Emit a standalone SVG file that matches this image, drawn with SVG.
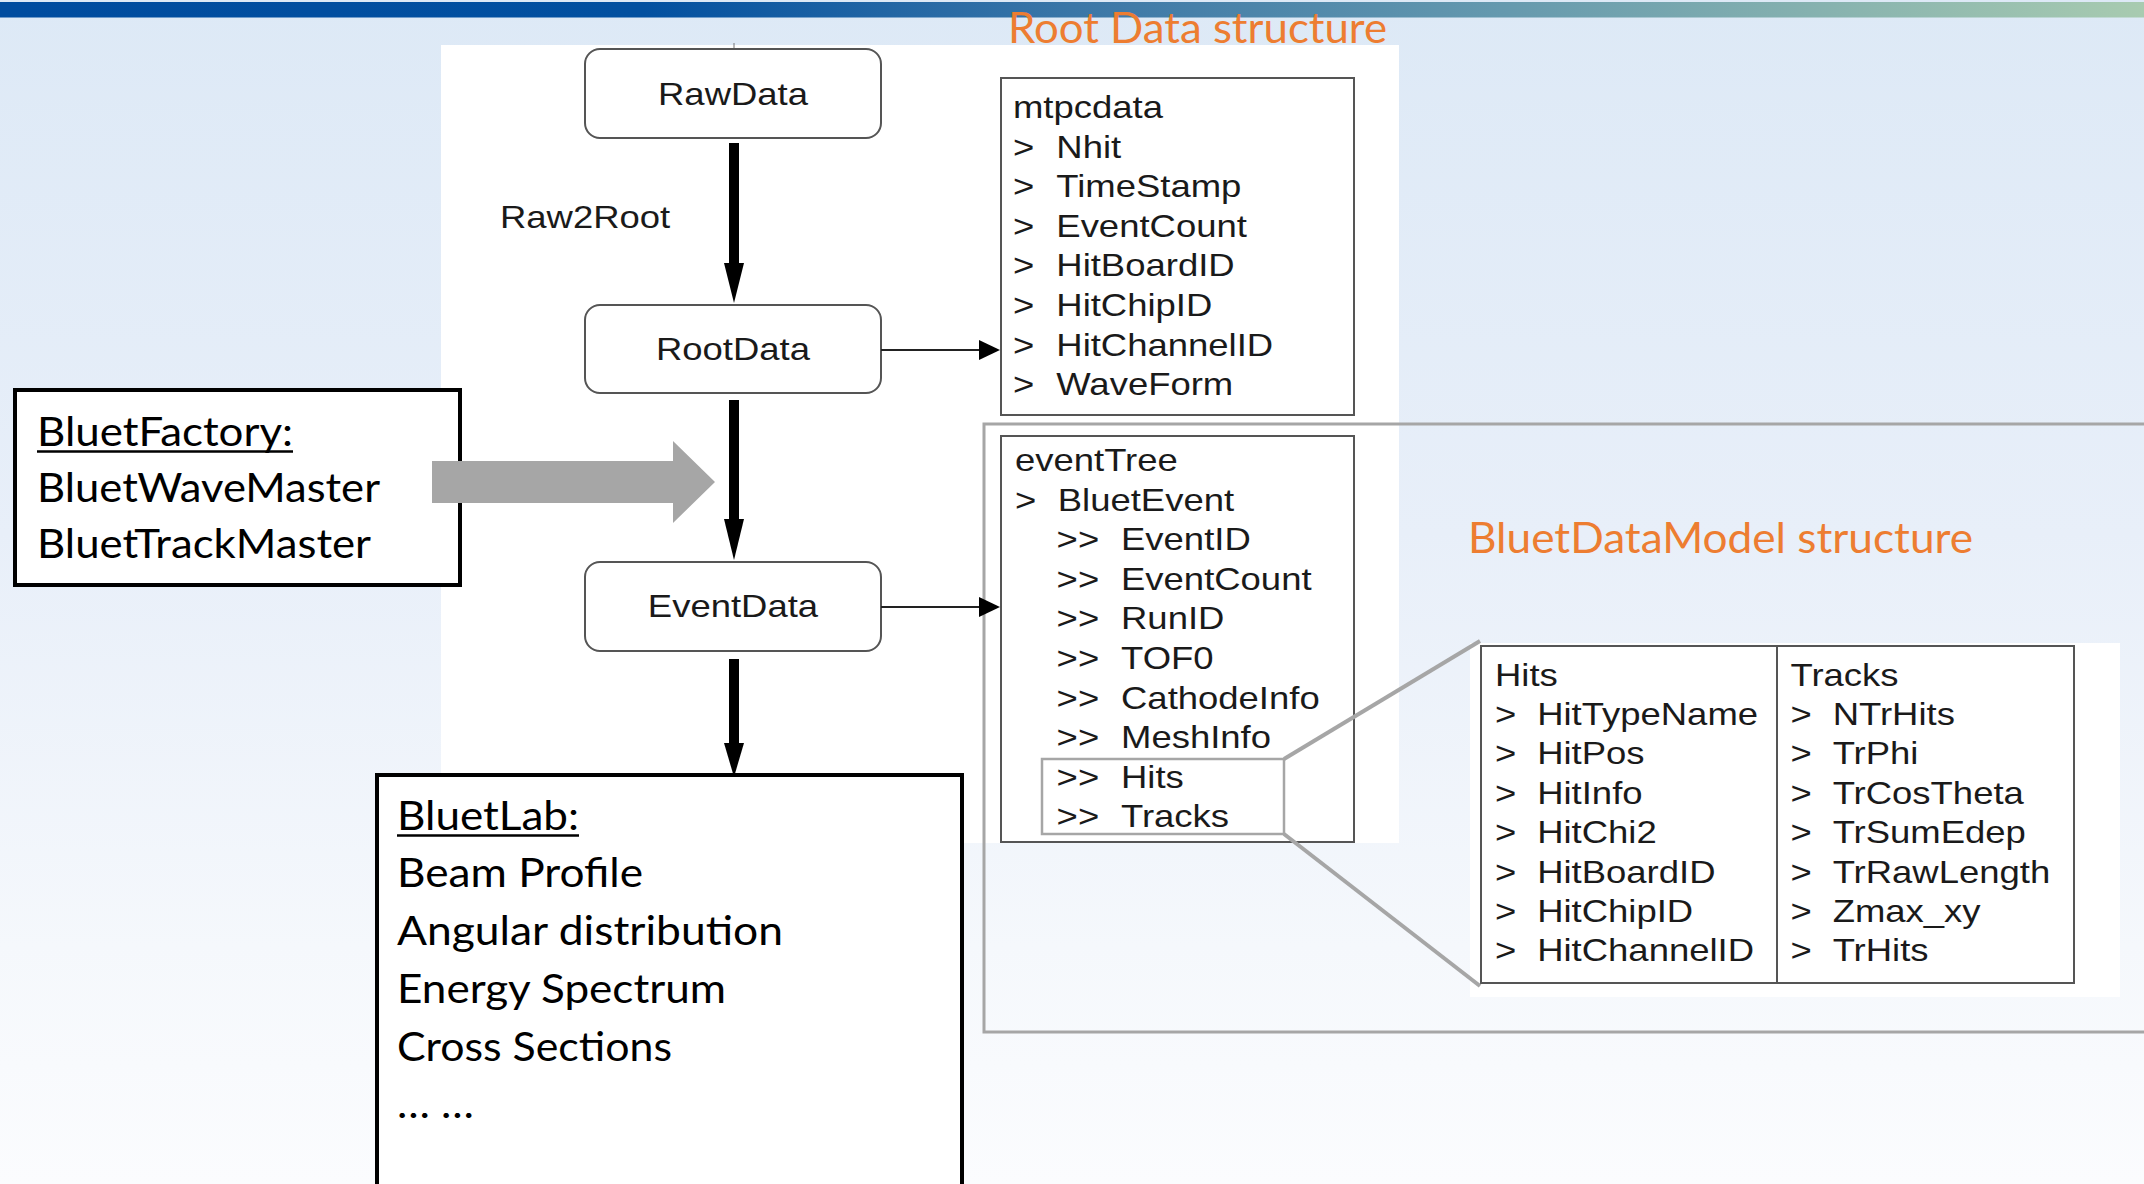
<svg xmlns="http://www.w3.org/2000/svg" width="2144" height="1184" viewBox="0 0 2144 1184">
<defs>
<linearGradient id="bg" x1="0" y1="0" x2="0" y2="1">
<stop offset="0" stop-color="#dde9f6"/>
<stop offset="0.45" stop-color="#e8eff9"/>
<stop offset="0.8" stop-color="#f5f8fc"/>
<stop offset="1" stop-color="#fbfcfe"/>
</linearGradient>
<linearGradient id="bar" x1="0" y1="0" x2="1" y2="0">
<stop offset="0" stop-color="#004c9f"/>
<stop offset="0.3" stop-color="#0250a0"/>
<stop offset="0.5" stop-color="#3a76a7"/>
<stop offset="0.7" stop-color="#6599ae"/>
<stop offset="1" stop-color="#a8cbb0"/>
</linearGradient>
<style>
.ar{font-family:"Liberation Sans",Arial,sans-serif;font-size:32px;fill:#1a1a1a}
.cal{font-family:Lato,"Open Sans",sans-serif;font-size:40px;fill:#000}
.title{font-family:Lato,"Open Sans",sans-serif;font-size:42px;fill:#ed7d31}
.node{fill:#fff;stroke:#555;stroke-width:2}
.list{fill:#fff;stroke:#555;stroke-width:2}
.box{fill:#fff;stroke:#000;stroke-width:4}
.gray{fill:none;stroke:#a6a6a6}
.thick{stroke:#000;stroke-width:10;fill:none}
.thin{stroke:#222;stroke-width:2;fill:none}
.head{fill:#000}
</style>
</defs>
<rect x="0" y="0" width="2144" height="1184" fill="url(#bg)"/>
<rect x="0" y="2" width="2144" height="15.5" fill="url(#bar)"/>
<text class="title" x="1008" y="43" textLength="379" lengthAdjust="spacingAndGlyphs">Root Data structure</text>
<rect x="441" y="45" width="958" height="798" fill="#fff"/>
<rect x="1470" y="643" width="650" height="354" fill="#fff"/>
<line x1="734" y1="43" x2="734" y2="50" stroke="#777" stroke-width="1"/>
<rect id="bdm-frame" class="gray" x="984" y="424" width="1200" height="608" stroke-width="3"/>
<text class="title" x="1468" y="552.5" textLength="505" lengthAdjust="spacingAndGlyphs">BluetDataModel structure</text>

<g id="rawdata">
<rect class="node" x="585" y="49" width="296" height="89" rx="15"/>
<text class="ar" text-anchor="middle" transform="matrix(1.14 0 0 1 733 105)">RawData</text>
</g>
<g id="rootdata">
<rect class="node" x="585" y="305" width="296" height="88" rx="15"/>
<text class="ar" text-anchor="middle" transform="matrix(1.14 0 0 1 733 360)">RootData</text>
</g>
<g id="eventdata">
<rect class="node" x="585" y="562" width="296" height="89" rx="15"/>
<text class="ar" text-anchor="middle" transform="matrix(1.14 0 0 1 733 617)">EventData</text>
</g>

<g id="mtpcdata">
<rect class="list" x="1001" y="78" width="353" height="337"/>
<g class="ar" transform="matrix(1.14 0 0 1 1013 0)">
<text x="0" y="118">mtpcdata</text>
<text y="157.6"><tspan x="0">&gt;</tspan><tspan x="38">Nhit</tspan></text>
<text y="197.2"><tspan x="0">&gt;</tspan><tspan x="38">TimeStamp</tspan></text>
<text y="236.8"><tspan x="0">&gt;</tspan><tspan x="38">EventCount</tspan></text>
<text y="276.4"><tspan x="0">&gt;</tspan><tspan x="38">HitBoardID</tspan></text>
<text y="316"><tspan x="0">&gt;</tspan><tspan x="38">HitChipID</tspan></text>
<text y="355.6"><tspan x="0">&gt;</tspan><tspan x="38">HitChannelID</tspan></text>
<text y="395.2"><tspan x="0">&gt;</tspan><tspan x="38">WaveForm</tspan></text>
</g>
</g>

<g id="eventtree">
<rect class="list" x="1001" y="436" width="353" height="406"/>
<rect class="gray" x="1042" y="759" width="242" height="75" stroke-width="2.5"/>
<g class="ar" transform="matrix(1.14 0 0 1 1015 0)">
<text x="0" y="471">eventTree</text>
<text y="510.6"><tspan x="0">&gt;</tspan><tspan x="37.5">BluetEvent</tspan></text>
<text y="550.2"><tspan x="36.5">&gt;&gt;</tspan><tspan x="93">EventID</tspan></text>
<text y="589.8"><tspan x="36.5">&gt;&gt;</tspan><tspan x="93">EventCount</tspan></text>
<text y="629.4"><tspan x="36.5">&gt;&gt;</tspan><tspan x="93">RunID</tspan></text>
<text y="669"><tspan x="36.5">&gt;&gt;</tspan><tspan x="93">TOF0</tspan></text>
<text y="708.6"><tspan x="36.5">&gt;&gt;</tspan><tspan x="93">CathodeInfo</tspan></text>
<text y="748.2"><tspan x="36.5">&gt;&gt;</tspan><tspan x="93">MeshInfo</tspan></text>
<text y="787.8"><tspan x="36.5">&gt;&gt;</tspan><tspan x="93">Hits</tspan></text>
<text y="827.4"><tspan x="36.5">&gt;&gt;</tspan><tspan x="93">Tracks</tspan></text>
</g>
</g>

<g id="hits-tracks">
<rect class="list" x="1481" y="646" width="593" height="337"/>
<line x1="1777" y1="646" x2="1777" y2="983" stroke="#555" stroke-width="2"/>
<g class="ar" transform="matrix(1.14 0 0 1 1495 0)">
<text x="0" y="685.7">Hits</text>
<text y="725.1"><tspan x="0">&gt;</tspan><tspan x="37">HitTypeName</tspan></text>
<text y="764.5"><tspan x="0">&gt;</tspan><tspan x="37">HitPos</tspan></text>
<text y="803.9"><tspan x="0">&gt;</tspan><tspan x="37">HitInfo</tspan></text>
<text y="843.3"><tspan x="0">&gt;</tspan><tspan x="37">HitChi2</tspan></text>
<text y="882.7"><tspan x="0">&gt;</tspan><tspan x="37">HitBoardID</tspan></text>
<text y="922.1"><tspan x="0">&gt;</tspan><tspan x="37">HitChipID</tspan></text>
<text y="961.5"><tspan x="0">&gt;</tspan><tspan x="37">HitChannelID</tspan></text>
</g>
<g class="ar" transform="matrix(1.14 0 0 1 1790.5 0)">
<text x="0" y="685.7">Tracks</text>
<text y="725.1"><tspan x="0">&gt;</tspan><tspan x="37">NTrHits</tspan></text>
<text y="764.5"><tspan x="0">&gt;</tspan><tspan x="37">TrPhi</tspan></text>
<text y="803.9"><tspan x="0">&gt;</tspan><tspan x="37">TrCosTheta</tspan></text>
<text y="843.3"><tspan x="0">&gt;</tspan><tspan x="37">TrSumEdep</tspan></text>
<text y="882.7"><tspan x="0">&gt;</tspan><tspan x="37">TrRawLength</tspan></text>
<text y="922.1"><tspan x="0">&gt;</tspan><tspan x="37">Zmax_xy</tspan></text>
<text y="961.5"><tspan x="0">&gt;</tspan><tspan x="37">TrHits</tspan></text>
</g>
</g>

<g id="bluetfactory">
<rect class="box" x="15" y="390" width="445" height="195"/>
<text class="cal" x="37" y="446" textLength="256" lengthAdjust="spacingAndGlyphs">BluetFactory:</text>
<line x1="37" y1="451.5" x2="293" y2="451.5" stroke="#000" stroke-width="2.5"/>
<text class="cal" x="37" y="502" textLength="343" lengthAdjust="spacingAndGlyphs">BluetWaveMaster</text>
<text class="cal" x="37" y="558" textLength="334" lengthAdjust="spacingAndGlyphs">BluetTrackMaster</text>
</g>

<g id="bluetlab">
<rect class="box" x="377" y="775" width="585" height="420"/>
<text class="cal" x="397" y="830" textLength="182" lengthAdjust="spacingAndGlyphs">BluetLab:</text>
<line x1="397" y1="835.5" x2="579" y2="835.5" stroke="#000" stroke-width="2.5"/>
<text class="cal" x="397" y="887" textLength="246" lengthAdjust="spacingAndGlyphs">Beam Profile</text>
<text class="cal" x="397" y="945" textLength="386" lengthAdjust="spacingAndGlyphs">Angular distribution</text>
<text class="cal" x="397" y="1003" textLength="329" lengthAdjust="spacingAndGlyphs">Energy Spectrum</text>
<text class="cal" x="397" y="1061" textLength="275" lengthAdjust="spacingAndGlyphs">Cross Sections</text>
<text class="cal" x="397" y="1118" textLength="77" lengthAdjust="spacingAndGlyphs">… …</text>
</g>

<g id="connectors">
<line class="thick" x1="734" y1="143" x2="734" y2="270"/>
<polygon class="head" points="724,263 744,263 734,303"/>
<text class="ar" transform="matrix(1.14 0 0 1 500 228)">Raw2Root</text>
<line class="thick" x1="734" y1="400" x2="734" y2="526"/>
<polygon class="head" points="724,519 744,519 734,560"/>
<line class="thick" x1="734" y1="659" x2="734" y2="750"/>
<polygon class="head" points="724,743 744,743 734,777"/>
<line class="thin" x1="881" y1="350" x2="982" y2="350"/>
<polygon class="head" points="979,340 1000,350 979,360"/>
<line class="thin" x1="881" y1="607" x2="982" y2="607"/>
<polygon class="head" points="979,597 1000,607 979,617"/>
<polygon fill="#a6a6a6" points="432,461 673,461 673,441 715,482 673,523 673,503 432,503"/>
<line class="gray" x1="1284" y1="759" x2="1480" y2="641" stroke-width="4"/>
<line class="gray" x1="1284" y1="834" x2="1480" y2="986" stroke-width="4"/>
</g>
</svg>
